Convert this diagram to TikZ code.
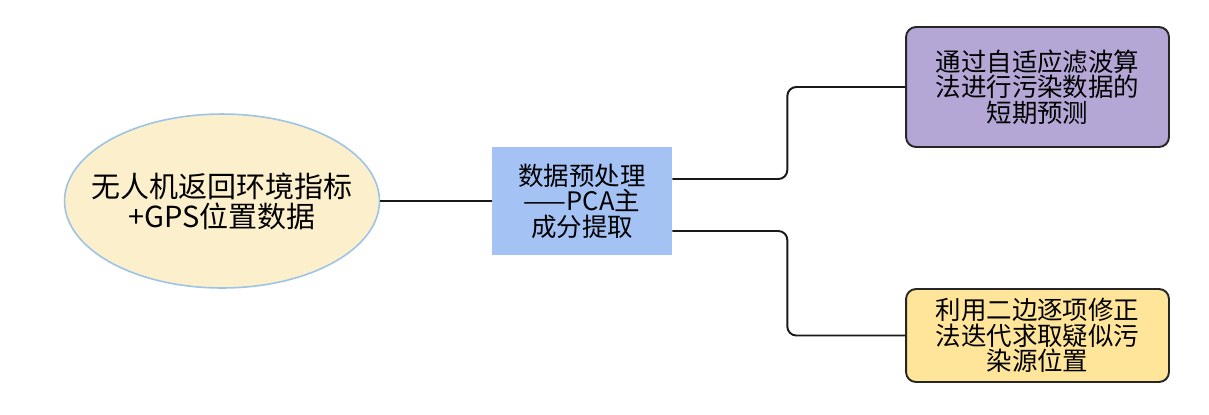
\documentclass[tikz,border=0pt]{standalone}
\usepackage{fontspec}
\setmainfont{Noto Sans CJK SC}
\usepackage{xcolor}
\usetikzlibrary{shapes.geometric,positioning,calc}

\definecolor{ellfill}{HTML}{FCF0CC}
\definecolor{elldraw}{HTML}{9DC3E6}
\definecolor{prefill}{HTML}{A4C2F4}
\definecolor{predfill}{HTML}{B4A7D6}
\definecolor{locfill}{HTML}{FFE599}
\definecolor{boxdraw}{HTML}{262626}

\begin{document}
\begin{tikzpicture}[x=0.02cm, y=-0.02cm,
        link/.style={line width=1.1pt, black!90, rounded corners=0.18cm},
        resbox/.style={draw=boxdraw, line width=1.1pt, rounded corners=0.2cm, minimum width=5.26cm, align=center, font=\fontsize{14.5}{14.5}\selectfont, inner sep=0pt}]
        \useasboundingbox (0,0) rectangle (1209,414);

        \node[ellipse, draw=elldraw, line width=0.9pt, fill=ellfill, minimum width=6.3cm, minimum height=3.48cm, inner sep=0pt,
              label={[align=center, font=\fontsize{16.5}{17}\selectfont]center:无人机返回环境指标 \\ +GPS位置数据}] (uav) at (222,201) {};
        \node[rectangle, fill=prefill, minimum width=3.6cm, minimum height=2.16cm, inner sep=0pt, align=center, font=\fontsize{14.5}{14.5}\selectfont] (pre) at (582,201) {数据预处理 \\ ——PCA主 \\ 成分提取};

        \node[resbox, fill=predfill, minimum height=2.4cm] (pred) at (1037.5,87) {通过自适应滤波算 \\ 法进行污染数据的 \\ 短期预测};
        \node[resbox, fill=locfill, minimum height=1.86cm] (loc) at (1037.5,335.5) {利用二边逐项修正 \\ 法迭代求取疑似污 \\ 染源位置};

        \draw[link] (uav.east) -- (pre.west);
        \draw[link] ([yshift=0.44cm]pre.east) -- +(2.3cm,0) |- (pred.west);
        \draw[link] ([yshift=-0.6cm]pre.east) -- +(2.3cm,0) |- (loc.west);
    \end{tikzpicture}
\end{document}
